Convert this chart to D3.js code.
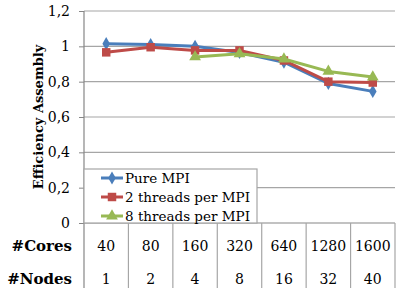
<!DOCTYPE html>
<html>
<head>
<meta charset="utf-8">
<script src="https://cdn.jsdelivr.net/npm/d3@7/dist/d3.min.js"></script>
<style>
  body { margin: 0; background: #fff; }
</style>
</head>
<body>
<svg id="chart" width="407" height="288"></svg>
<script>
// data
const cores = ["40", "80", "160", "320", "640", "1280", "1600"];
const nodes = ["1", "2", "4", "8", "16", "32", "40"];
const pureMPI = [1.015, 1.01, 1.0, 0.965, 0.91, 0.79, 0.745];
const threads2 = [0.966, 0.995, 0.977, 0.977, 0.92, 0.80, 0.795];
const threads8 = [null, null, 0.94, 0.958, 0.928, 0.858, 0.826];
const yTicks = [0, 0.2, 0.4, 0.6, 0.8, 1, 1.2];

const series = [
	{ name: "Pure MPI", values: pureMPI, color: "#4a7ebb", marker: "diamond" },
	{ name: "2 threads per MPI", values: threads2, color: "#be4b48", marker: "square" },
	{ name: "8 threads per MPI", values: threads8, color: "#98b954", marker: "triangle" }
];

const serif = "DejaVu Serif";

const svg = d3.select("#chart");
const plotLeft = 84, plotRight = 395, plotTop = 11, plotBottom = 223;

const x = d3.scaleBand().domain(cores).range([plotLeft, plotRight]);
const y = d3.scaleLinear().domain([0, 1.2]).range([plotBottom, plotTop]);

const fmt = d => (d % 1 === 0 ? String(d) : d.toFixed(1).replace(".", ","));

// grid lines
svg.append("g").selectAll("line")
	.data(yTicks.filter(d => d > 0))
	.join("line")
	.attr("x1", plotLeft).attr("x2", plotRight)
	.attr("y1", d => y(d)).attr("y2", d => y(d))
	.attr("stroke", "#a6a6a6").attr("stroke-width", 1.2);

// y axis
const yAxis = svg.append("g")
	.attr("transform", `translate(${plotLeft},0)`)
	.call(d3.axisLeft(y).tickValues(yTicks).tickFormat(fmt).tickSize(5).tickPadding(9));
yAxis.attr("font-family", serif).attr("font-size", 14);
yAxis.select(".domain").remove();
yAxis.selectAll(".tick line").attr("stroke", "#868686");
yAxis.selectAll(".tick text").attr("fill", "#000");

svg.append("line")
	.attr("x1", plotLeft).attr("x2", plotLeft).attr("y1", plotTop).attr("y2", 288)
	.attr("stroke", "#868686").attr("stroke-width", 1.2);

// x axis + table
svg.append("line")
	.attr("x1", plotLeft).attr("x2", plotRight).attr("y1", plotBottom).attr("y2", plotBottom)
	.attr("stroke", "#868686").attr("stroke-width", 1.2);

svg.append("g").selectAll("line")
	.data(cores)
	.join("line")
	.attr("x1", d => x(d) + x.bandwidth()).attr("x2", d => x(d) + x.bandwidth())
	.attr("y1", plotBottom).attr("y2", 288)
	.attr("stroke", "#a6a6a6").attr("stroke-width", 1.2);

svg.append("g").selectAll("text")
	.data(cores)
	.join("text")
	.attr("x", d => x(d) + x.bandwidth() / 2).attr("y", 251)
	.attr("text-anchor", "middle")
	.attr("font-family", serif).attr("font-size", 14)
	.text(d => d);

svg.append("g").selectAll("text")
	.data(nodes)
	.join("text")
	.attr("x", (d, i) => x(cores[i]) + x.bandwidth() / 2).attr("y", 284)
	.attr("text-anchor", "middle")
	.attr("font-family", serif).attr("font-size", 14)
	.text(d => d);

svg.append("text").attr("x", 72).attr("y", 251).attr("text-anchor", "end")
	.attr("font-family", serif).attr("font-size", 15).attr("font-weight", "bold").text("#Cores");
svg.append("text").attr("x", 72).attr("y", 284).attr("text-anchor", "end")
	.attr("font-family", serif).attr("font-size", 15).attr("font-weight", "bold").text("#Nodes");

// y title
svg.append("text")
	.attr("transform", `translate(43,${(plotTop + plotBottom) / 2}) rotate(-90)`)
	.attr("text-anchor", "middle")
	.attr("font-family", serif).attr("font-size", 13).attr("font-weight", "bold")
	.text("Efficiency Assembly");

// markers
function markerPath(kind) {
	if (kind === "diamond") return d3.symbol(d3.symbolDiamond, 50)();
	if (kind === "square") return d3.symbol(d3.symbolSquare, 72)();
	return d3.symbol(d3.symbolTriangle, 60)();
}

const line = d3.line()
	.defined(d => d.v != null)
	.x(d => x(d.c) + x.bandwidth() / 2)
	.y(d => y(d.v));

series.forEach(s => {
	const pts = s.values.map((v, i) => ({ c: cores[i], v: v }));
	svg.append("path")
		.datum(pts)
		.attr("d", line)
		.attr("fill", "none")
		.attr("stroke", s.color).attr("stroke-width", 3)
		.attr("stroke-linejoin", "round");
	svg.append("g").selectAll("path")
		.data(pts.filter(d => d.v != null))
		.join("path")
		.attr("d", markerPath(s.marker))
		.attr("transform", d => `translate(${x(d.c) + x.bandwidth() / 2},${y(d.v)})`)
		.attr("fill", s.color);
});

// legend
const lg = svg.append("g");
lg.append("rect")
	.attr("x", plotLeft).attr("y", 169).attr("width", 173).attr("height", plotBottom - 169)
	.attr("fill", "#fff").attr("stroke", "#a6a6a6").attr("stroke-width", 1.2);

series.forEach((s, i) => {
	const ly = 178 + i * 19;
	lg.append("line").attr("x1", 101).attr("x2", 123).attr("y1", ly).attr("y2", ly)
		.attr("stroke", s.color).attr("stroke-width", 3);
	lg.append("path").attr("d", markerPath(s.marker))
		.attr("transform", `translate(112,${ly})`).attr("fill", s.color);
	lg.append("text").attr("x", 125).attr("y", ly + 5)
		.attr("font-family", serif).attr("font-size", 13.5).text(s.name);
});
</script>
</body>
</html>
